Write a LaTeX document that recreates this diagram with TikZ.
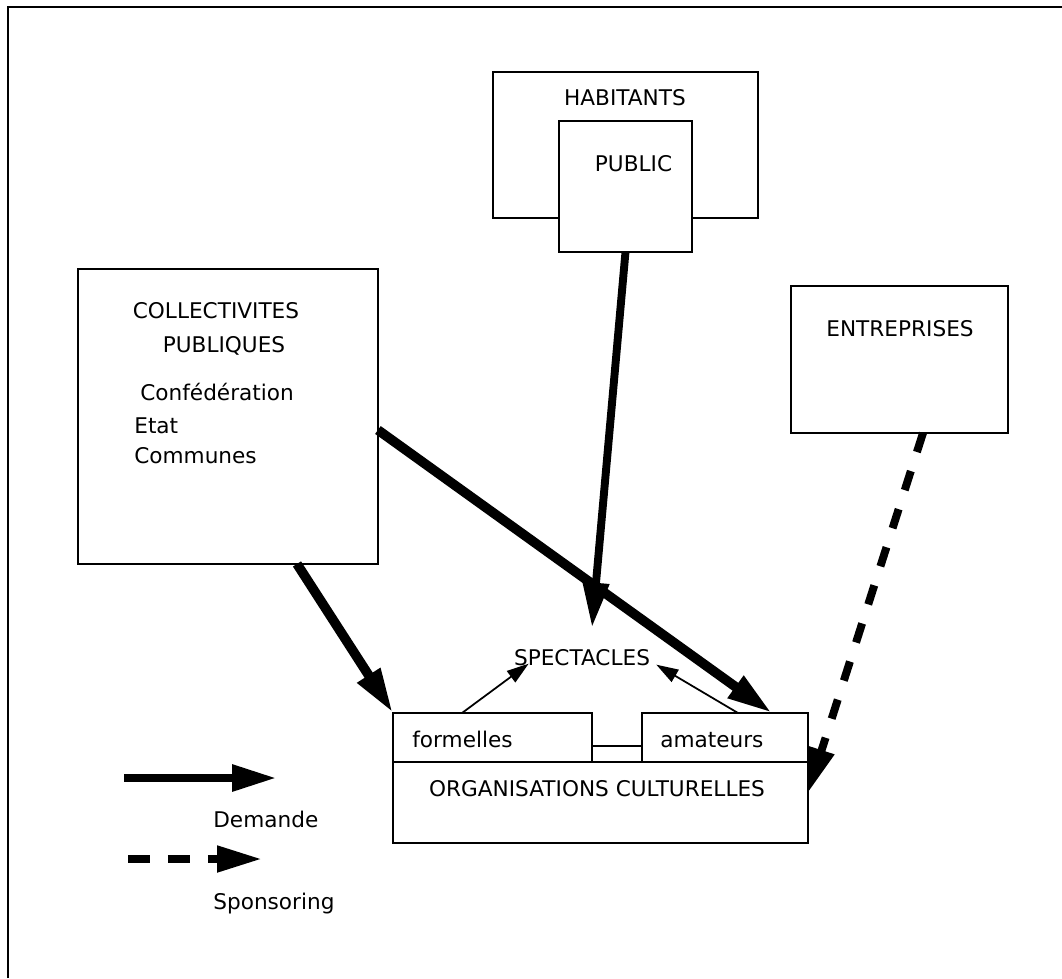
\documentclass[tikz,border=0pt]{standalone}
\usepackage{fontspec}
\setmainfont{DejaVu Sans}
\usetikzlibrary{arrows.meta}

\tikzset{
  boite/.style={draw, line width=1pt, fill=white, inner sep=0pt, outer sep=0pt, anchor=north west},
  texte/.style={inner sep=0pt, font=\fontsize{12.3}{14}\selectfont},
  demande/.style={line width=5.5pt, -{Triangle[length=0.9cm,width=0.5cm]}},
  sponsoring/.style={line width=4.5pt, dash pattern=on 0.4cm off 0.4cm, -{Triangle[length=0.9cm,width=0.5cm]}},
  fleche/.style={line width=1pt, -{Triangle[length=0.44cm,width=0.28cm]}}
}

\begin{document}
\begin{tikzpicture}[x=0.02cm, y=-0.02cm]
            \useasboundingbox (0,0) rectangle (1062,978);

            % Frame
            \draw[line width=1pt] (8,978) -- (8,7) -- (1062,7);

            % Boxes
            \node[boite, minimum width=5.3cm, minimum height=2.92cm] (hab) at (493,72) {};
            \node[boite, minimum width=2.66cm, minimum height=2.62cm] (pub) at (559,121) {};
            \node[boite, minimum width=6cm, minimum height=5.9cm] (coll) at (78,269) {};
            \node[boite, minimum width=4.34cm, minimum height=2.94cm] (entr) at (791,286) {};
            \node[boite, minimum width=8.3cm, minimum height=1.62cm] (org) at (393,762) {};
            \node[boite, minimum width=3.98cm, minimum height=0.98cm] (form) at (393,713) {};
            \node[boite, minimum width=3.32cm, minimum height=0.98cm] (amat) at (642,713) {};

            % Texts
            \node[texte, anchor=base] (habtxt) at (625,105) {HABITANTS};
            \node[texte, anchor=base] (pubtxt) at (633.5,171) {PUBLIC};
            \node[texte, anchor=base] (colltxt) at (216,318) {COLLECTIVITES};
            \node[texte, anchor=base] (colltxtb) at (224,352) {PUBLIQUES};
            \node[texte, anchor=base west] (conf) at (140,400) {Confédération};
            \node[texte, anchor=base west] (etat) at (134,433) {Etat};
            \node[texte, anchor=base west] (comm) at (134,463) {Communes};
            \node[texte, anchor=base] (entrtxt) at (900,336) {ENTREPRISES};
            \node[texte, anchor=base] (spec) at (582,665) {SPECTACLES};
            \node[texte, anchor=base west] (formtxt) at (412,747) {formelles};
            \node[texte, anchor=base west] (amattxt) at (660,747) {amateurs};
            \node[texte, anchor=base] (orgtxt) at (597,796) {ORGANISATIONS CULTURELLES};

            % Arrows
            \draw[demande] ([shift={(219,0)}]coll.south west) -- (form.north west);
            \draw[demande] ([shift={(0,161)}]coll.north east) -- ([shift={(130,0)}]amat.north west);
            \draw[demande, line width=4.5pt] (pub.south) -- ([shift={(10,-21)}]spec.north);
            \draw[sponsoring] ([shift={(132,0)}]entr.south west) -- ([shift={(0,31)}]org.north east);
            \draw[fleche] ([shift={(69,0)}]form.north west) -- ([shift={(15,-2)}]spec.south west);
            \draw[fleche] ([shift={(96,0)}]amat.north west) -- ([shift={(6,-1)}]spec.south east);
            \draw[line width=1pt] ([shift={(0,8.5)}]form.east) -- ([shift={(0,8.5)}]amat.west);

            % Legend
            \coordinate (dema) at (124,778);
            \coordinate (demb) at (277,778);
            \draw[demande, line width=5pt] (dema) -- (demb);
            \node[texte, anchor=base west] (demtxt) at (213,827) {Demande};

            \coordinate (spoa) at (128,859);
            \coordinate (spob) at (262,859);
            \draw[sponsoring, dash pattern=on 0.44cm off 0.36cm] (spoa) -- (spob);
            \node[texte, anchor=base west] (spotxt) at (213,909) {Sponsoring};

        \end{tikzpicture}
\end{document}
